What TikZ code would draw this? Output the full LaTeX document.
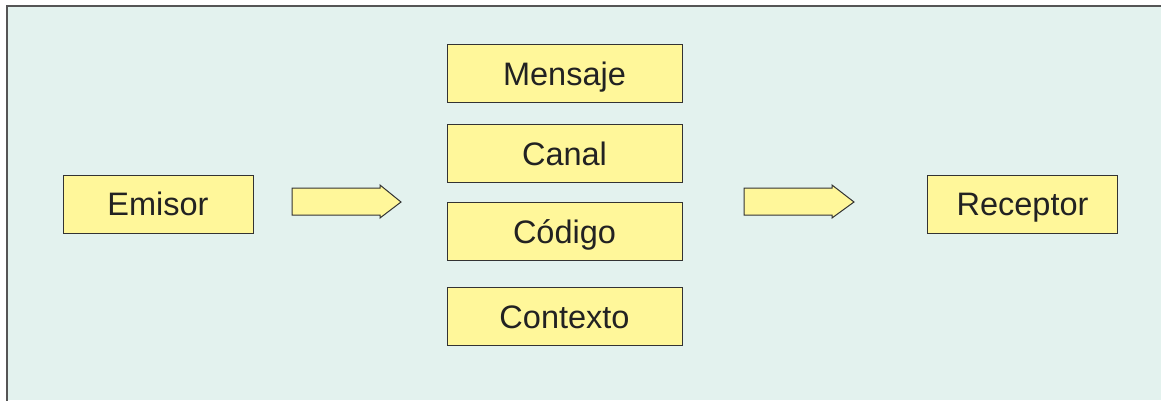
\documentclass[tikz,border=0pt]{standalone}
\usepackage{fontspec}
\setmainfont{Liberation Sans}
\definecolor{panelbg}{HTML}{E3F2EE}
\definecolor{panelframe}{HTML}{555555}
\definecolor{boxfill}{HTML}{FFF79A}
\definecolor{boxline}{HTML}{333333}
\definecolor{txt}{HTML}{222222}
\tikzset{
  item/.style={draw=boxline, line width=1pt, fill=boxfill, text=txt,
    minimum width=190pt, minimum height=58pt, inner sep=0pt,
    text height=23pt, text depth=0pt,
    font=\fontsize{32.5}{38}\selectfont},
  midbox/.style={item, minimum width=235pt},
  blockarrow/.style={draw=boxline, line width=1pt, fill=boxfill, line join=miter}
}
\begin{document}
\begin{tikzpicture}[x=1pt,y=-1pt]
\useasboundingbox (0,0) rectangle (1161,400);
% panel
\fill[panelbg] (7,6) rectangle (1161,400);
\draw[panelframe, line width=1.5pt] (7,401) -- (7,6) -- (1162,6);

% boxes
\node[item]   (emisor)   at (158,204)   {Emisor};
\node[midbox] (mensaje)  at (564.5,73.5)  {Mensaje};
\node[midbox] (canal)    at (564.5,153.5) {Canal};
\node[midbox] (codigo)   at (564.5,231.5) {Código};
\node[midbox] (contexto) at (564.5,316.5) {Contexto};
\node[item]   (receptor) at (1022.5,204)  {Receptor};

% block arrows
\draw[blockarrow] (292,188) -- (380,188) -- (380,185) -- (401,202)
  -- (380,218) -- (380,215) -- (292,215) -- cycle;
\draw[blockarrow] (744,188) -- (832,188) -- (832,185) -- (854,202)
  -- (832,218) -- (832,215) -- (744,215) -- cycle;
\end{tikzpicture}
\end{document}
